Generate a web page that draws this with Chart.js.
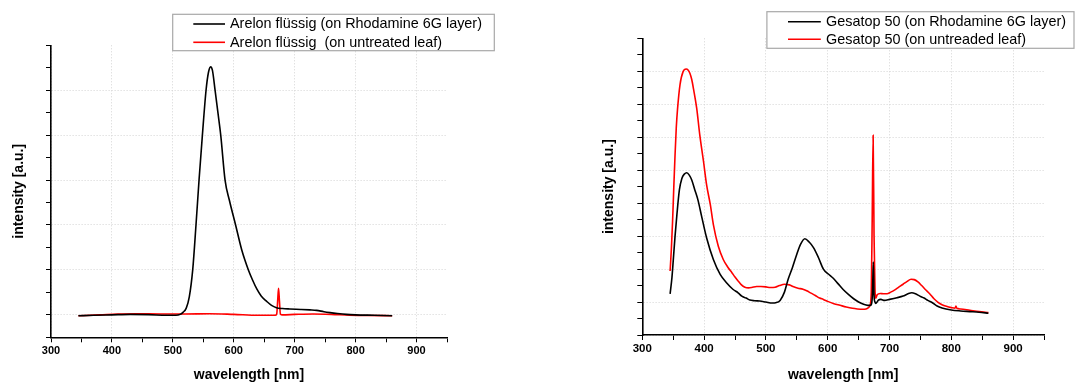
<!DOCTYPE html>
<html>
<head>
<meta charset="utf-8">
<script src="https://cdn.jsdelivr.net/npm/chart.js@4.4.1/dist/chart.umd.min.js"></script>
<style>
  html, body { margin: 0; padding: 0; background: #fff; }
  #wrap { position: relative; width: 1075px; height: 383px; overflow: hidden; }
  canvas { position: absolute; top: 0; }
</style>
</head>
<body>
<div id="wrap">
  <canvas id="left" width="537" height="383" style="left:0"></canvas>
  <canvas id="right" width="538" height="383" style="left:537px"></canvas>
</div>
<script>
// tick labels shown on the wavelength axis
const xTickLabels = [300, 400, 500, 600, 700, 800, 900];

// left panel: Arelon flüssig
const arelonLabels = ['Arelon flüssig (on Rhodamine 6G layer)', 'Arelon flüssig  (on untreated leaf)'];
const arelonNmR6G = [345, 370, 400, 430, 460, 490, 505, 512, 517, 522, 527, 532.6, 538, 543, 548.5, 554.5, 558.5, 562, 565, 569.3,
  574, 578.6, 585.7, 592.8, 603, 613, 624, 631, 638, 645, 654, 662, 670, 680, 692, 710, 725, 736, 748, 758, 770, 785, 800, 830, 860];
const arelonValR6G = [-0.02, -0.01, 0.0, 0.01, 0.005, -0.01, -0.01, 0.01, 0.06, 0.15, 0.4, 1.0, 2.0, 3.0, 4.0, 5.0, 5.4, 5.52, 5.44, 5.0,
  4.5, 4.0, 3.0, 2.55, 2.0, 1.45, 1.0, 0.77, 0.57, 0.42, 0.3, 0.21, 0.16, 0.14, 0.13, 0.12, 0.11, 0.10, 0.07, 0.05, 0.03, 0.01, 0.0, -0.01, -0.02];
const arelonNmLeaf = [345, 380, 410, 440, 480, 520, 560, 600, 640, 668, 670.5, 672, 673.5, 675, 676.5, 680, 700, 730, 760, 790, 820, 860];
const arelonValLeaf = [-0.02, 0.0, 0.02, 0.025, 0.02, 0.02, 0.025, 0.01, -0.01, -0.01, 0.02, 0.3, 0.59, 0.3, 0.02, 0.0, 0.01, 0.02, 0.01, -0.01, -0.015, -0.02];

// right panel: Gesatop 50
const gesatopLabels = ['Gesatop 50 (on Rhodamine 6G layer)', 'Gesatop 50 (on untreaded leaf)'];
const gesatopNmR6G = [345, 348, 350, 353, 356, 360, 364, 368, 372, 376, 380, 385, 390, 396, 404, 415, 426, 437, 447, 455,
  461, 468, 474, 482, 490, 500, 510, 516, 523, 530, 536, 543, 550, 556, 563, 570, 577, 585, 593, 601,
  609, 617, 625, 633, 642, 650, 658, 665, 669, 671, 672.5, 673.8, 675, 676.5, 678, 682, 686, 692, 700, 712,
  722, 730, 736, 742, 749, 756, 762, 770, 777, 785, 800, 815, 830, 845, 860];
const gesatopValR6G = [0.25, 0.75, 1.24, 2.0, 2.65, 3.4, 3.75, 3.88, 3.92, 3.85, 3.7, 3.4, 3.1, 2.6, 1.95, 1.29, 0.84, 0.57, 0.38, 0.28,
  0.18, 0.12, 0.06, 0.04, 0.03, 0.0, -0.03, -0.02, 0.05, 0.3, 0.69, 1.05, 1.45, 1.75, 1.92, 1.82, 1.65, 1.35, 1.0, 0.85,
  0.72, 0.55, 0.38, 0.24, 0.10, 0.0, -0.07, -0.10, -0.10, -0.05, 0.3, 1.21, 0.2, 0.0, -0.04, 0.06, 0.08, 0.05, 0.08, 0.13,
  0.18, 0.25, 0.28, 0.25, 0.18, 0.12, 0.05, -0.03, -0.12, -0.18, -0.24, -0.27, -0.29, -0.31, -0.34];
const gesatopNmLeaf = [345, 347, 349, 351, 353, 355, 357, 361, 366, 371, 374, 377, 380, 383, 388, 393, 399, 404, 410, 415,
  423, 431, 439, 445, 450, 455, 460, 466, 472, 477, 485, 492, 500, 507, 515, 522, 530, 538, 545, 552,
  560, 566, 573, 580, 587, 593, 600, 610, 620, 630, 640, 648, 656, 662, 666, 668.5, 670.5, 672, 673.5, 675,
  676.5, 678, 680, 685, 690, 696, 702, 708, 715, 722, 728, 735, 740, 746, 752, 758, 765, 772, 778, 785,
  792, 800, 806, 807.5, 809, 815, 830, 845, 860];
const gesatopValLeaf = [0.94, 1.6, 2.45, 3.5, 4.47, 5.3, 5.85, 6.59, 6.99, 7.07, 7.04, 6.94, 6.75, 6.45, 5.88, 5.07, 4.27, 3.56, 2.96, 2.35,
  1.69, 1.29, 1.04, 0.89, 0.76, 0.64, 0.53, 0.45, 0.43, 0.44, 0.47, 0.47, 0.46, 0.44, 0.45, 0.5, 0.54, 0.52, 0.46, 0.42,
  0.39, 0.34, 0.27, 0.2, 0.12, 0.08, 0.02, -0.05, -0.10, -0.15, -0.19, -0.21, -0.22, -0.21, -0.17, -0.1, 0.3, 2.5, 5.06, 2.0,
  0.4, 0.12, 0.22, 0.26, 0.25, 0.25, 0.30, 0.36, 0.45, 0.54, 0.62, 0.69, 0.68, 0.61, 0.50, 0.38, 0.25, 0.10, 0.0, -0.08,
  -0.13, -0.17, -0.19, -0.12, -0.19, -0.21, -0.25, -0.29, -0.32];

const FONT = "'Liberation Sans', Arial, sans-serif";
const GRID = '#d4d4d4';
const CLEAR = 'rgba(0,0,0,0)';

const pairs = (xs, ys) => xs.map((x, i) => ({ x: x, y: ys[i] }));
const isWhole = v => Math.abs(v - Math.round(v)) < 1e-6;

// boxed legend like the original plot (partly overlapping the frame)
const boxLegend = {
  id: 'boxLegend',
  afterDraw(chart, args, o) {
    const ctx = chart.ctx;
    const right = Math.min(o.right, chart.width - 1);
    ctx.save();
    ctx.fillStyle = '#fff';
    ctx.fillRect(o.left, o.top, right - o.left, o.bottom - o.top);
    ctx.strokeStyle = '#a8a8a8';
    ctx.lineWidth = 1.2;
    ctx.strokeRect(o.left, o.top, right - o.left, o.bottom - o.top);
    ctx.font = o.fontSize + 'px ' + FONT;
    ctx.textBaseline = 'middle';
    chart.data.datasets.forEach((ds, i) => {
      const y = o.rows[i];
      ctx.strokeStyle = ds.borderColor;
      ctx.lineWidth = 1.6;
      ctx.beginPath();
      ctx.moveTo(o.lineFrom, y);
      ctx.lineTo(o.lineTo, y);
      ctx.stroke();
      ctx.fillStyle = '#000';
      ctx.fillText(ds.label, o.textX, y + 0.5);
    });
    ctx.restore();
  }
};

function makeChart(id, labels, series, g) {
  const colors = ['#000000', '#ff0000'];
  return new Chart(document.getElementById(id), {
    type: 'line',
    data: {
      datasets: series.map((s, i) => ({
        label: labels[i],
        data: s,
        borderColor: colors[i],
        borderWidth: 1.6,
        pointRadius: 0,
        cubicInterpolationMode: 'monotone',
        fill: false
      }))
    },
    plugins: [boxLegend],
    options: {
      responsive: false,
      animation: false,
      devicePixelRatio: 1,
      layout: { padding: { left: g.padLeft, top: g.top, right: g.padRight, bottom: 0 } },
      plugins: {
        legend: { display: false },
        tooltip: { enabled: false },
        boxLegend: g.legend
      },
      scales: {
        x: {
          type: 'linear',
          min: 300,
          max: 950,
          afterFit: s => { s.height = g.xHeight; },
          ticks: {
            stepSize: 50,
            autoSkip: false,
            maxRotation: 0,
            padding: 2,
            color: '#000',
            font: { family: FONT, size: g.tickSize, weight: 'bold' },
            callback: v => xTickLabels.includes(v) ? String(v) : ''
          },
          grid: {
            color: c => (c.tick && xTickLabels.includes(c.tick.value)) ? GRID : CLEAR,
            lineWidth: 1,
            tickColor: '#000',
            tickLength: 5
          },
          border: { color: '#000', width: 1.6, dash: [1, 2] },
          title: {
            display: true,
            text: 'wavelength [nm]',
            color: '#000',
            padding: 0,
            font: { family: FONT, size: 14, weight: 'bold', lineHeight: 1.1 }
          }
        },
        y: {
          type: 'linear',
          min: g.yMin,
          max: g.yMax,
          afterFit: s => { s.width = g.yWidth; },
          ticks: {
            stepSize: 0.5,
            autoSkip: false,
            padding: 0,
            callback: () => ''
          },
          grid: {
            color: c => (c.tick && isWhole(c.tick.value) && c.tick.value < g.yMax) ? GRID : CLEAR,
            lineWidth: 1,
            tickColor: '#000',
            tickLength: 5
          },
          border: { color: '#000', width: 1.6, dash: [1, 2] },
          title: {
            display: true,
            text: 'intensity [a.u.]',
            color: '#000',
            padding: 0,
            font: { family: FONT, size: 14, weight: 'bold', lineHeight: 1.1 }
          }
        }
      }
    }
  });
}

makeChart('left', arelonLabels,
  [pairs(arelonNmR6G, arelonValR6G), pairs(arelonNmLeaf, arelonValLeaf)],
  {
    padLeft: 11.2, yWidth: 39.8, top: 45.3, padRight: 90, xHeight: 45.7,
    yMin: -0.5, yMax: 6, tickSize: 11,
    legend: { left: 172.7, top: 14.3, right: 494.3, bottom: 50.7, rows: [24, 42.3],
      lineFrom: 193.3, lineTo: 225, textX: 230, fontSize: 14.4 }
  });

makeChart('right', gesatopLabels,
  [pairs(gesatopNmR6G, gesatopValR6G), pairs(gesatopNmLeaf, gesatopValLeaf)],
  {
    padLeft: 64.3, yWidth: 41, top: 38.3, padRight: 31, xHeight: 48,
    yMin: -1, yMax: 8, tickSize: 11.5,
    legend: { left: 229.9, top: 11.7, right: 545, bottom: 48.3, rows: [21.7, 39.3],
      lineFrom: 251, lineTo: 283.8, textX: 289, fontSize: 14.4 }
  });
</script>
</body>
</html>
